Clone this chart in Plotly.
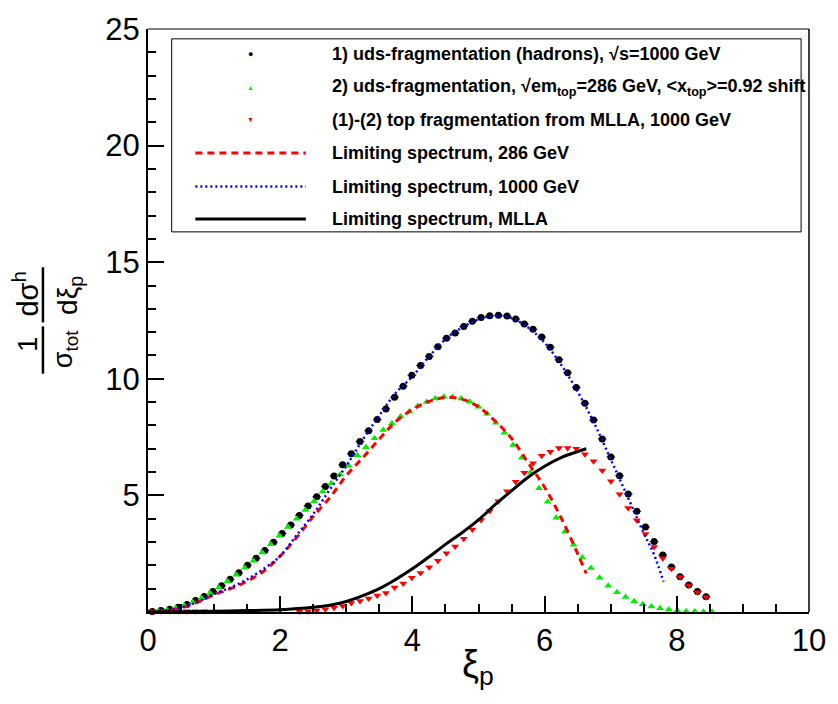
import plotly.graph_objects as go

# ---------------- data ----------------
# bin centres of the 1000 GeV histograms (xi_p)
xi_bins = [0.065, 0.196, 0.327, 0.458, 0.589, 0.720, 0.850, 0.981, 1.112, 1.243,
           1.374, 1.505, 1.636, 1.767, 1.898, 2.029, 2.159, 2.290, 2.421, 2.552,
           2.683, 2.814, 2.945, 3.076, 3.207, 3.338, 3.468, 3.599, 3.730, 3.861,
           3.992, 4.123, 4.254, 4.385, 4.516, 4.647, 4.777, 4.908, 5.039, 5.170,
           5.301, 5.432, 5.563, 5.694, 5.825, 5.956, 6.086, 6.217, 6.348, 6.479,
           6.610, 6.741, 6.872, 7.003, 7.134, 7.265, 7.395, 7.526, 7.657, 7.788,
           7.919, 8.050, 8.181, 8.312, 8.443]
bin_halfwidth = 0.065

uds_1000 = [0.02, 0.06, 0.12, 0.20, 0.32, 0.49, 0.67, 0.88, 1.13, 1.40,
            1.68, 2.00, 2.30, 2.64, 2.99, 3.37, 3.73, 4.14, 4.55, 4.94,
            5.38, 5.83, 6.31, 6.79, 7.31, 7.77, 8.25, 8.71, 9.21, 9.68,
            10.15, 10.57, 10.96, 11.37, 11.74, 11.96, 12.24, 12.47, 12.63, 12.70,
            12.72, 12.69, 12.56, 12.35, 12.12, 11.79, 11.35, 10.82, 10.26, 9.63,
            8.95, 8.23, 7.42, 6.65, 5.84, 5.06, 4.32, 3.64, 3.02, 2.44,
            1.93, 1.51, 1.16, 0.88, 0.65]

top_minus = [0.03, 0.03, 0.03, 0.03, 0.03, 0.03, 0.03, None, None, None,
             None, None, None, None, None, None, None, 0.02, 0.03, 0.06,
             0.12, 0.18, 0.26, 0.39, 0.47, 0.58, 0.71, 0.82, 1.05, 1.22,
             1.47, 1.67, 1.92, 2.20, 2.52, 2.81, 3.14, 3.54, 3.95, 4.33,
             4.75, 5.18, 5.59, 5.97, 6.38, 6.70, 6.87, 7.03, 7.03, 7.00,
             6.76, 6.46, 6.07, 5.61, 5.05, 4.46, 3.93, 3.34, 2.79, 2.31,
             1.85, 1.50, 1.15, 0.85, 0.64]

# shifted 286 GeV histogram
xi_shift = [0.025, 0.156, 0.287, 0.418, 0.549, 0.680, 0.810, 0.941, 1.072, 1.203,
            1.334, 1.465, 1.596, 1.727, 1.858, 1.989, 2.119, 2.250, 2.381, 2.512,
            2.643, 2.774, 2.905, 3.036, 3.167, 3.298, 3.428, 3.559, 3.690, 3.821,
            3.952, 4.083, 4.214, 4.345, 4.476, 4.607, 4.737, 4.868, 4.999, 5.130,
            5.261, 5.392, 5.523, 5.654, 5.785, 5.916, 6.046, 6.177, 6.308, 6.439,
            6.570, 6.701, 6.832, 6.963, 7.094, 7.225, 7.355, 7.486, 7.617, 7.748,
            7.879, 8.010, 8.141, 8.272, 8.403, 8.534]
uds_286 = [0.0, 0.03, 0.09, 0.17, 0.28, 0.42, 0.60, 0.80, 1.05, 1.32,
           1.60, 1.90, 2.20, 2.55, 2.90, 3.27, 3.65, 4.00, 4.37, 4.75,
           5.17, 5.52, 5.90, 6.27, 6.72, 7.07, 7.45, 7.80, 8.08, 8.38,
           8.60, 8.83, 9.01, 9.15, 9.23, 9.22, 9.15, 9.02, 8.80, 8.50,
           8.12, 7.69, 7.16, 6.61, 5.98, 5.31, 4.73, 4.04, 3.44, 2.88,
           2.34, 1.89, 1.47, 1.13, 0.85, 0.64, 0.46, 0.33, 0.24, 0.16,
           0.11, 0.06, 0.03, 0.02, 0.01, 0.01]

# limiting spectra
lim286_x = [0.0, 0.25, 0.5, 0.75, 1.0, 1.25, 1.5, 1.75, 2.0, 2.25, 2.5, 2.75, 3.0,
            3.25, 3.5, 3.75, 4.0, 4.25, 4.5, 4.75, 5.0, 5.25, 5.5, 5.75, 6.0,
            6.25, 6.5, 6.63]
lim286_y = [0.0, 0.05, 0.18, 0.42, 0.74, 1.0, 1.32, 1.75, 2.4, 3.2, 4.1, 4.9, 5.85,
            6.62, 7.42, 8.17, 8.68, 9.03, 9.2, 9.13, 8.8, 8.19, 7.45, 6.4, 5.35,
            4.04, 2.5, 1.65]

lim1000_x = [0.0, 0.25, 0.5, 0.75, 1.0, 1.25, 1.5, 1.75, 2.0, 2.25, 2.5, 2.75, 3.0,
             3.25, 3.5, 3.75, 4.0, 4.25, 4.5, 4.75, 5.0, 5.25, 5.5, 5.75, 6.0,
             6.25, 6.5, 6.75, 7.0, 7.25, 7.5, 7.65, 7.8]
lim1000_y = [0.0, 0.05, 0.18, 0.43, 0.77, 1.05, 1.4, 1.85, 2.4, 3.3, 4.2, 5.25, 6.27,
             7.4, 8.43, 9.4, 10.1, 10.95, 11.7, 12.2, 12.55, 12.7, 12.6, 12.2, 11.55,
             10.6, 9.45, 8.1, 6.55, 4.98, 3.38, 2.5, 1.3]

mlla_x = [0.0, 0.5, 1.0, 1.5, 2.0, 2.25, 2.5, 2.75, 3.0, 3.25, 3.5, 3.75, 4.0,
          4.25, 4.5, 4.75, 5.0, 5.25, 5.5, 5.75, 6.0, 6.25, 6.5, 6.63]
mlla_y = [0.0, 0.01, 0.03, 0.06, 0.1, 0.15, 0.2, 0.29, 0.45, 0.70, 1.0, 1.40, 1.85,
          2.36, 2.9, 3.4, 3.95, 4.6, 5.2, 5.78, 6.25, 6.62, 6.88, 7.0]

names = [
    "1) uds-fragmentation (hadrons), √s=1000 GeV",
    "2) uds-fragmentation, √em<sub>top</sub>=286 GeV, &lt;x<sub>top</sub>&gt;=0.92 shift",
    "(1)-(2) top fragmentation from MLLA, 1000 GeV",
    "Limiting spectrum, 286 GeV",
    "Limiting spectrum, 1000 GeV",
    "Limiting spectrum, MLLA",
]

FONT = "Arial, 'Liberation Sans', Helvetica, sans-serif"
C_BLACK, C_GREEN, C_RED, C_BLUE = "black", "#00ee00", "#ff0000", "#0000ff"
DASH_RED, DASH_BLUE = "7px,5px", "2px,3px"

fig = go.Figure()
fig.add_trace(go.Scatter(
    x=xi_bins, y=uds_1000, mode="markers", name=names[0],
    marker=dict(symbol="circle", size=7, color=C_BLACK),
    error_x=dict(type="constant", value=bin_halfwidth, color="#23236b",
                 thickness=1.2, width=0),
    cliponaxis=False))
fig.add_trace(go.Scatter(
    x=xi_shift, y=uds_286, mode="markers", name=names[1],
    marker=dict(symbol="triangle-up", size=7, color=C_GREEN),
    cliponaxis=False))
fig.add_trace(go.Scatter(
    x=xi_bins, y=top_minus, mode="markers", name=names[2],
    marker=dict(symbol="triangle-down", size=7, color=C_RED),
    cliponaxis=False))
fig.add_trace(go.Scatter(
    x=lim286_x, y=lim286_y, mode="lines", name=names[3],
    line=dict(color=C_RED, width=3, dash=DASH_RED, shape="spline")))
fig.add_trace(go.Scatter(
    x=lim1000_x, y=lim1000_y, mode="lines", name=names[4],
    line=dict(color=C_BLUE, width=2.5, dash=DASH_BLUE, shape="spline")))
fig.add_trace(go.Scatter(
    x=mlla_x, y=mlla_y, mode="lines", name=names[5],
    line=dict(color=C_BLACK, width=3, shape="spline")))
fig.update_traces(showlegend=False)

L, R, T, B = 148, 20, 20, 92
W, H = 838, 704
pw, ph = W - L - R, H - T - B


def px2paper(px, py):
    return (px - L) / pw, (H - B - py) / ph


ann = []
shapes = []


def text_at(text, px, py, size, angle=0, xanchor="center", yanchor="middle",
            color="black", bold=False):
    x, y = px2paper(px, py)
    ann.append(dict(text=text, x=x, y=y, xref="paper", yref="paper",
                    showarrow=False, textangle=angle, xanchor=xanchor,
                    yanchor=yanchor,
                    font=dict(size=size, family=FONT, color=color,
                              weight="bold" if bold else "normal")))


def line_px(x0, y0, x1, y1, color, width, dash="solid"):
    a0, b0 = px2paper(x0, y0)
    a1, b1 = px2paper(x1, y1)
    shapes.append(dict(type="line", xref="paper", yref="paper", x0=a0, y0=b0,
                       x1=a1, y1=b1, line=dict(color=color, width=width, dash=dash)))


# frame: thin top and right edges (ROOT style)
shapes.append(dict(type="line", xref="paper", yref="paper", x0=0, x1=1, y0=1, y1=1,
                   line=dict(color="black", width=1)))
shapes.append(dict(type="line", xref="paper", yref="paper", x0=1, x1=1, y0=0, y1=1,
                   line=dict(color="black", width=1.5)))

# y-axis title: two stacked fractions, rotated
text_at("1", 27, 340, 27, angle=-90)
text_at("σ<sub>tot</sub>", 64, 345, 27, angle=-90)
text_at("dσ<sup>h</sup>", 24, 289, 29, angle=-90)
text_at("dξ<sub>p</sub>", 69, 291, 28, angle=-90)
line_px(41.5, 322, 41.5, 370, "black", 2.5)
line_px(41.5, 262, 41.5, 318, "black", 2.5)

# x-axis title
text_at("ξ<sub>p</sub>", 482, 668, 38)

# legend box (drawn by hand to mimic the ROOT TLegend)
x0, y0 = px2paper(172, 30)
x1, y1 = px2paper(810, 226)
shapes.append(dict(type="rect", xref="paper", yref="paper", x0=x0, y0=y1,
                   x1=x1, y1=y0, line=dict(color="black", width=1),
                   fillcolor="white", layer="above"))
rows = [45, 79, 112, 146, 180, 213]
text_at("●", 252, rows[0], 9, color=C_BLACK)
text_at("▲", 252, rows[1], 7, color=C_GREEN)
text_at("▼", 252, rows[2], 7, color=C_RED)
line_px(196, rows[3], 308, rows[3], C_RED, 3, DASH_RED)
line_px(196, rows[4], 308, rows[4], C_BLUE, 2.5, DASH_BLUE)
line_px(196, rows[5], 308, rows[5], C_BLACK, 3)
for name, ry in zip(names, rows):
    text_at(name, 332, ry, 18, xanchor="left", bold=True)

fig.update_layout(
    width=W, height=H,
    margin=dict(l=L, r=R, t=T, b=B),
    paper_bgcolor="white", plot_bgcolor="white",
    font=dict(family=FONT, color="black"),
    annotations=ann, shapes=shapes,
    showlegend=False,
)
fig.update_xaxes(
    range=[0, 10], showgrid=False, zeroline=False,
    showline=True, linecolor="black", linewidth=2,
    ticks="inside", ticklen=16, tickwidth=1.5, tickcolor="black",
    tickvals=[0, 2, 4, 6, 8, 10], ticktext=["0", "2", "4", "6", "8", "10"],
    tickfont=dict(size=31, family=FONT),
    minor=dict(ticks="inside", ticklen=8, tickwidth=1.5, tickcolor="black",
               dtick=0.5, showgrid=False),
)
fig.update_yaxes(
    range=[0, 25], showgrid=False, zeroline=False,
    showline=True, linecolor="black", linewidth=2,
    ticks="inside", ticklen=16, tickwidth=1.5, tickcolor="black",
    tickvals=[5, 10, 15, 20, 25], ticktext=["5", "10", "15", "20", "25"],
    tickfont=dict(size=31, family=FONT),
    minor=dict(ticks="inside", ticklen=8, tickwidth=1.5, tickcolor="black",
               dtick=1, showgrid=False),
)

fig.write_html("out.html")
